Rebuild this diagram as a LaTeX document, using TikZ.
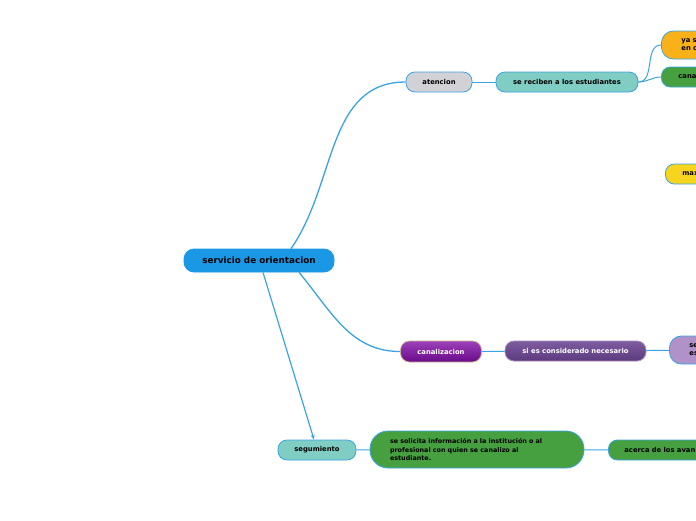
\documentclass[tikz,border=0pt]{standalone}
\usepackage{fontspec}
\setmainfont{DejaVu Sans}
\usepackage{tikz}
\definecolor{lineBlue}{HTML}{3AA3E6}
\definecolor{mainBlue}{HTML}{1A98E5}
\definecolor{greyFill}{HTML}{D2D2D6}
\definecolor{tealFill}{HTML}{7FCDC3}
\definecolor{orangeFill}{HTML}{F9B11A}
\definecolor{greenFill}{HTML}{46A03F}
\definecolor{yellowFill}{HTML}{F7D41E}
\definecolor{lilacFill}{HTML}{B091C8}
\definecolor{purpleTop}{HTML}{9C42B8}
\definecolor{purpleBot}{HTML}{6A0A8A}
\definecolor{violetTop}{HTML}{7E5CA0}
\definecolor{violetBot}{HTML}{5C3A7E}
\definecolor{tanLine}{HTML}{C9B58E}
\tikzset{
     topic/.style={draw=lineBlue, line width=0.8pt, rounded corners=9pt, minimum height=20pt, inner sep=0pt,
                   font=\bfseries\fontsize{6.8}{8}\selectfont},
     edgeTopic/.style={topic, anchor=west, align=left, text width=60pt, inner xsep=20pt},
     arrow/.style={-{Stealth[length=5pt,width=4pt]}},
     branch/.style={draw=lineBlue, line width=1pt}
     }
\usetikzlibrary{positioning,arrows.meta}
\begin{document}
\begin{tikzpicture}[x=1pt,y=-1pt]
                    \useasboundingbox (0,0) rectangle (696,520);
                    \clip (0,0) rectangle (696,520);
                    % Place nodes
                    \node [topic, fill=mainBlue, draw=mainBlue, minimum width=150pt, minimum height=23pt, rounded corners=10pt,
                           font=\bfseries\fontsize{8.8}{10}\selectfont] (orientacion) at (259,260.5) {servicio de orientacion};
                    \node [topic, fill=greyFill, minimum width=66pt] (atencion) at (439,82) {atencion};
                    \node [topic, fill=tealFill, minimum width=142pt] (seReciben) at (567,82) {se reciben a los estudiantes};
                    \node [edgeTopic, fill=orangeFill, minimum height=28pt, rounded corners=12pt] (yaSe) at (661,45) {ya s\\en c};
                    \node [edgeTopic, fill=greenFill, inner xsep=17pt] (canalizado) at (661,77) {cana};
                    \node [edgeTopic, fill=yellowFill, inner xsep=17pt] (maximo) at (665,174) {max};
                    \node [topic, draw=tanLine, top color=purpleTop, bottom color=purpleBot, text=white, minimum width=81pt,
                           minimum height=21pt] (canalizacion) at (441,351.5) {canalizacion};
                    \node [topic, draw=violetTop!70!white, top color=violetTop, bottom color=violetBot, text=white,
                           minimum width=141pt] (siEs) at (575.5,351) {si es considerado necesario};
                    \node [edgeTopic, fill=lilacFill, minimum height=28pt, rounded corners=12pt, inner xsep=20pt] (seEs) at (669,350) {se\\es};
                    \node [topic, fill=tealFill, minimum width=78pt] (segumiento) at (317,450) {segumiento};
                    \node [topic, fill=greenFill, rounded corners=18pt, minimum height=37pt, align=left, text width=174pt,
                           inner xsep=20pt, font=\bfseries\fontsize{6.4}{8.4}\selectfont] (seSolicita) at (477,449.5)
                          {se solicita información a la institución o al\\profesional con quien se canalizo al\\estudiante.};
                    \node [edgeTopic, fill=greenFill, text width=100pt, inner xsep=16pt] (acerca) at (608,450) {acerca de los avan};
                    % Draw edges
                    \draw [branch, line width=1.3pt] ([xshift=32pt]orientacion.north) to[out=55,in=180] (atencion.west);
                    \draw [branch, line width=1.3pt] ([xshift=40pt]orientacion.south) to[out=-50,in=180] (canalizacion.west);
                    \draw [branch, arrow, line width=1.2pt] ([xshift=4pt]orientacion.south) -- ([xshift=-3pt]segumiento.north);
                    \draw [branch] (atencion) -- (seReciben);
                    \draw [branch] (seReciben.east) to[out=0,in=180] (yaSe.west);
                    \draw [branch] (seReciben.east) to[out=0,in=180] (canalizado.west);
                    \draw [branch] (canalizacion) -- (siEs);
                    \draw [branch] (siEs) -- (seEs);
                    \draw [branch] (segumiento) -- (seSolicita);
                    \draw [branch] (seSolicita) -- (acerca);
                \end{tikzpicture}
\end{document}
